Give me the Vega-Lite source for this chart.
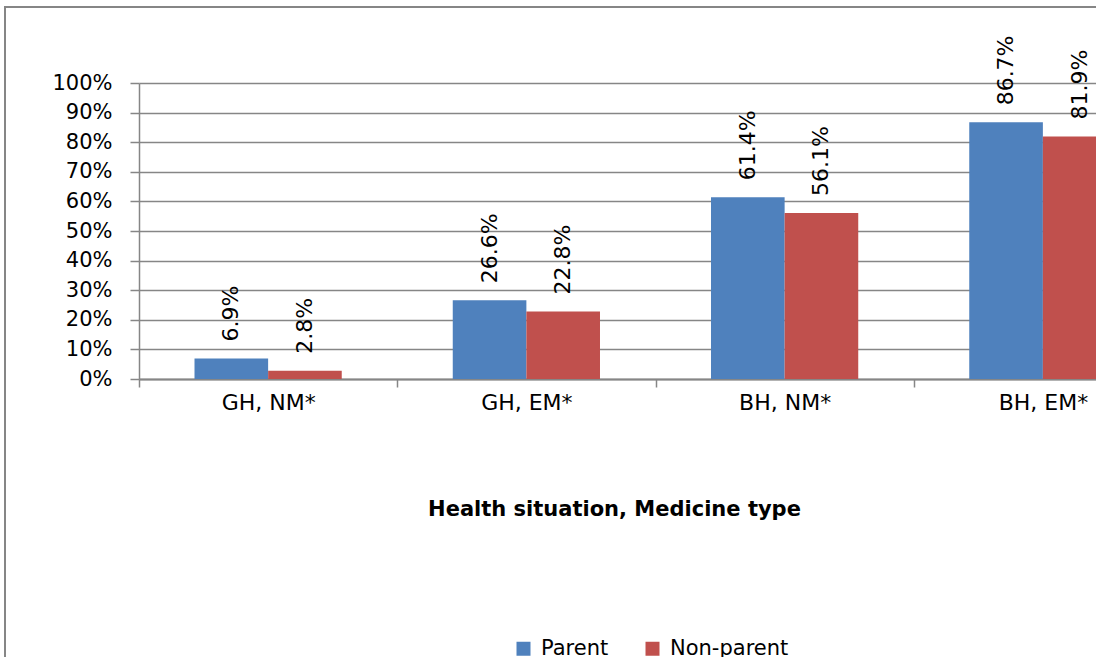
{
  "$schema": "https://vega.github.io/schema/vega-lite/v6.json",
  "autosize": "none",
  "width": 1093,
  "height": 652,
  "padding": {"left": 5, "top": 7, "right": 0, "bottom": 0},
  "background": "white",
  "config": {
    "font": "DejaVu Sans",
    "view": {"stroke": "#868686", "strokeWidth": 2}
  },
  "data": {
    "values": [
      {"category": "GH, NM*", "group": "Parent", "value": 0.069},
      {"category": "GH, NM*", "group": "Non-parent", "value": 0.028},
      {"category": "GH, EM*", "group": "Parent", "value": 0.266},
      {"category": "GH, EM*", "group": "Non-parent", "value": 0.228},
      {"category": "BH, NM*", "group": "Parent", "value": 0.614},
      {"category": "BH, NM*", "group": "Non-parent", "value": 0.561},
      {"category": "BH, EM*", "group": "Parent", "value": 0.867},
      {"category": "BH, EM*", "group": "Non-parent", "value": 0.819}
    ]
  },
  "encoding": {
    "x": {
      "field": "category",
      "type": "nominal",
      "sort": ["GH, NM*", "GH, EM*", "BH, NM*", "BH, EM*"],
      "scale": {"range": [134, 1167], "paddingInner": 0, "paddingOuter": 0},
      "axis": {
        "title": "Health situation, Medicine type",
        "offset": -280,
        "labelAngle": 0,
        "labelFontSize": 22,
        "labelColor": "#000000",
        "labelPadding": 5,
        "tickBand": "extent",
        "tickSize": 8,
        "tickColor": "#868686",
        "tickWidth": 1.5,
        "domainColor": "#868686",
        "domainWidth": 2,
        "grid": false,
        "titleFontSize": 21,
        "titleFontWeight": "bold",
        "titleColor": "#000000",
        "titleX": 609,
        "titleY": 136,
        "titleAlign": "center",
        "titleBaseline": "alphabetic"
      }
    },
    "xOffset": {
      "field": "group",
      "type": "nominal",
      "sort": ["Parent", "Non-parent"],
      "scale": {"paddingInner": 0, "paddingOuter": 0.754}
    }
  },
  "layer": [
    {
      "mark": {"type": "bar"},
      "encoding": {
        "y": {
          "field": "value",
          "type": "quantitative",
          "scale": {"domain": [0, 1], "range": [372, 76], "nice": false},
          "axis": {
            "title": null,
            "format": ".0%",
            "values": [0, 0.1, 0.2, 0.3, 0.4, 0.5, 0.6, 0.7, 0.8, 0.9, 1],
            "offset": -134,
            "labelFontSize": 21,
            "labelColor": "#000000",
            "labelPadding": 18,
            "tickSize": 9,
            "tickColor": "#868686",
            "tickWidth": 1.5,
            "domainColor": "#868686",
            "domainWidth": 1.5,
            "grid": true,
            "gridColor": "#868686",
            "gridWidth": 1.5
          }
        },
        "color": {
          "field": "group",
          "type": "nominal",
          "sort": ["Parent", "Non-parent"],
          "scale": {"domain": ["Parent", "Non-parent"], "range": ["#4F81BD", "#C0504D"]},
          "legend": {
            "title": null,
            "orient": "none",
            "direction": "horizontal",
            "legendX": 508,
            "legendY": 631,
            "padding": 0,
            "symbolType": "square",
            "symbolSize": 196,
            "symbolStrokeWidth": 0,
            "labelFontSize": 21,
            "labelColor": "#000000",
            "labelOffset": 7,
            "columnPadding": 33
          }
        }
      }
    },
    {
      "mark": {"type": "text", "angle": 270, "align": "left", "baseline": "middle", "dx": 17, "fontSize": 22, "color": "#000000"},
      "encoding": {
        "y": {"field": "value", "type": "quantitative"},
        "text": {"field": "value", "type": "quantitative", "format": ".1%"}
      }
    }
  ]
}
